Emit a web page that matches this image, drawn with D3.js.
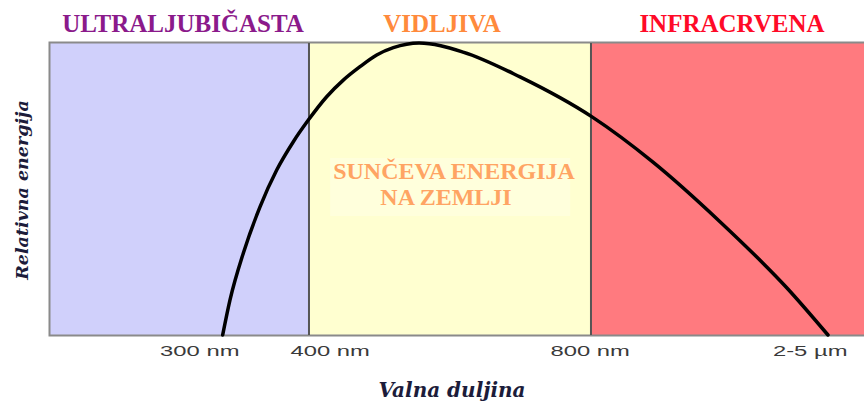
<!DOCTYPE html>
<html>
<head>
    <meta charset="utf-8">
    <title>Sunčeva energija na Zemlji</title>
    <script src="https://d3js.org/d3.v7.min.js"></script>
    <style>
        body { margin: 0; background: #fff; }
        svg { display: block; }
    </style>
</head>
<body>
    <div id="chart"></div>

    <script type="text/javascript">
        // Bands of the spectrum (position units along the wavelength axis, 0..100)
        var bandNames = ["ULTRALJUBIČASTA", "VIDLJIVA", "INFRACRVENA"];
        var bandStart = [0, 31.9, 66.5];
        var bandEnd = [31.9, 66.5, 100];

        // Axis tick labels and where they sit
        var tickLabels = ["300 nm", "400 nm", "800 nm", "2-5 µm"];
        var tickPos = [18.5, 34.5, 66.4, 93.4];

        // Relative energy curve
        var curveX = [21.31, 22.21, 23.84, 25.89, 27.94, 29.98, 31.82, 34.07, 36.11, 38.16, 40.21, 42.25, 45.4,
                      50.80, 57.79, 66.63, 74.11, 82.33, 90.55, 95.58];
        var curveY = [0, 0.120, 0.280, 0.439, 0.565, 0.662, 0.736, 0.816, 0.873, 0.919, 0.959, 0.984, 1.0,
                      0.969, 0.884, 0.747, 0.592, 0.388, 0.161, 0];

        var width = 864, height = 403;
        var margin = {top: 43, right: 0, bottom: 68, left: 49};

        var svg = d3.select("#chart").append("svg")
            .attr("width", width)
            .attr("height", height);

        var x = d3.scaleLinear().domain([0, 100]).range([margin.left, width - margin.right]);
        var y = d3.scaleLinear().domain([0, 1]).range([height - margin.bottom, margin.top]);

        var bandFill = ["#d0d0fb", "#ffffd0", "#ff7a7f"];
        var bandText = ["#8b1a8b", "#ff8a3c", "#ff0a28"];
        var bandLabelX = [183, 442, 732];

        var bands = bandNames.map(function(n, i) {
            return {name: n, x0: bandStart[i], x1: bandEnd[i], fill: bandFill[i], color: bandText[i], lx: bandLabelX[i]};
        });

        var serif = "'Liberation Serif', 'Times New Roman', serif";

        // band rectangles
        svg.selectAll("rect.band").data(bands).enter()
            .append("rect")
            .attr("class", "band")
            .attr("x", function(d) { return x(d.x0); })
            .attr("y", y(1))
            .attr("width", function(d) { return x(d.x1) - x(d.x0); })
            .attr("height", y(0) - y(1))
            .style("fill", function(d) { return d.fill; });

        // faint lighter box behind the inner label
        svg.append("rect")
            .attr("x", x(34.5)).attr("y", 158)
            .attr("width", 240).attr("height", 58)
            .style("fill", "#ffffe4").style("opacity", 0.6);

        // frame
        svg.append("path")
            .attr("d", "M" + width + "," + (y(1) - 0.5) + "H" + (x(0) + 0.5) + "V" + (y(0) + 0.5) + "H" + width)
            .style("fill", "none").style("stroke", "#8a8a8a").style("stroke-width", 2);

        // band separators
        svg.selectAll("line.sep").data(bandStart.slice(1)).enter()
            .append("line")
            .attr("x1", function(d) { return x(d); })
            .attr("x2", function(d) { return x(d); })
            .attr("y1", y(1))
            .attr("y2", y(0))
            .style("stroke", "#555").style("stroke-width", 2);

        // band titles
        svg.selectAll("text.band").data(bands).enter()
            .append("text")
            .attr("x", function(d) { return d.lx; })
            .attr("y", 32)
            .attr("text-anchor", "middle")
            .style("font-family", serif)
            .style("font-weight", "bold")
            .style("font-size", "25px")
            .style("fill", function(d) { return d.color; })
            .text(function(d) { return d.name; });

        // inner label
        svg.append("text")
            .attr("x", 454).attr("y", 179)
            .attr("text-anchor", "middle")
            .style("font-family", serif)
            .style("font-weight", "bold").style("font-size", "24px")
            .style("fill", "#ffa463")
            .text("SUNČEVA ENERGIJA");
        svg.append("text")
            .attr("x", 446).attr("y", 205)
            .attr("text-anchor", "middle")
            .style("font-family", serif)
            .style("font-weight", "bold").style("font-size", "24px")
            .style("fill", "#ffa463")
            .text("NA ZEMLJI");

        // energy curve
        var pts = curveX.map(function(v, i) { return [v, curveY[i]]; });
        var line = d3.line()
            .x(function(d) { return x(d[0]); })
            .y(function(d) { return y(d[1]); })
            .curve(d3.curveMonotoneX);

        svg.append("path")
            .datum(pts)
            .attr("d", line)
            .style("fill", "none")
            .style("stroke", "#000")
            .style("stroke-width", 3.5)
            .style("stroke-linecap", "round");

        // tick labels (stretched wide like the original)
        svg.selectAll("text.tick").data(tickLabels).enter()
            .append("text")
            .attr("transform", function(d, i) { return "translate(" + x(tickPos[i]) + ",356) scale(1.7,1)"; })
            .attr("text-anchor", "middle")
            .style("font-family", "'Liberation Sans', Arial, sans-serif")
            .style("font-size", "14px")
            .style("fill", "#3a3a3a")
            .text(function(d) { return d; });

        // axis titles
        svg.append("text")
            .attr("x", 452).attr("y", 397)
            .attr("text-anchor", "middle")
            .style("font-family", "'DejaVu Serif', 'Liberation Serif', serif")
            .style("font-weight", "bold").style("font-style", "italic")
            .style("font-size", "20px")
            .style("fill", "#1c1c3a")
            .text("Valna duljina");

        svg.append("text")
            .attr("transform", "translate(28,190) rotate(-90)")
            .attr("text-anchor", "middle")
            .style("font-family", "'DejaVu Serif', 'Liberation Serif', serif")
            .style("font-weight", "bold").style("font-style", "italic")
            .style("font-size", "17.5px")
            .style("fill", "#1c1c3a")
            .text("Relativna energija");
    </script>
</body>
</html>
